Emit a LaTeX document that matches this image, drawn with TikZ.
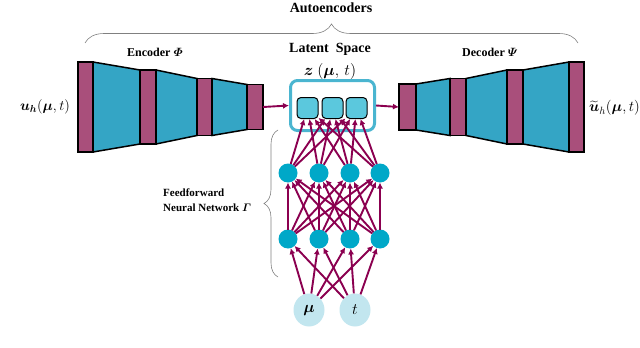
\RequirePackage{fix-cm}
\documentclass[tikz,border=0pt]{standalone}
\usepackage{amsmath}
\usepackage{bm}
\usepackage{fontspec}
\setmainfont{Liberation Serif}
\usetikzlibrary{arrows.meta,decorations.pathreplacing,shapes.geometric}
\definecolor{barc}{HTML}{A94F7B}
\definecolor{trapc}{HTML}{34A5C5}
\definecolor{nodec}{HTML}{00A8C8}
\definecolor{arrc}{HTML}{8B0050}
\definecolor{boxc}{HTML}{4AB5D0}
\definecolor{sqc}{HTML}{5BC8DD}
\definecolor{inc}{HTML}{C2E6EF}
\tikzset{
  bar/.style={draw=black, fill=barc, line width=1.5pt, inner sep=0pt, outer sep=0pt, minimum width=#1},
  trap/.style={draw=black, fill=trapc, line width=1.5pt, line join=miter},
  arr/.style={draw=arrc, line width=1.9pt, -{Latex[length=6pt,width=6pt]}},
  hid/.style={circle, fill=nodec, minimum size=19pt, inner sep=0pt, outer sep=0pt},
  inp/.style={ellipse, fill=inc, minimum width=31pt, minimum height=33pt, inner sep=0pt},
  sq/.style={draw=black, fill=sqc, line width=1pt, rounded corners=4pt, minimum size=21pt, inner sep=0pt},
  brc/.style={draw=gray, line width=0.6pt, decorate, decoration={brace, amplitude=#1}},
  lbl/.style={font=\bfseries\fontsize{12}{14}\selectfont, inner sep=0pt}
}
\begin{document}
\begin{tikzpicture}[x=1pt,y=-1pt]
\path[use as bounding box] (0,0) rectangle (640,348);
% encoder
\node[bar=15, minimum height=90] (e1) at (85.5,107) {};
\node[bar=16, minimum height=74] (e2) at (148,107) {};
\node[bar=15, minimum height=57] (e3) at (204.5,107) {};
\node[bar=16, minimum height=45] (e4) at (255,107) {};
\draw[trap] (e1.north east) -- (e2.north west) -- (e2.south west) -- (e1.south east) -- cycle;
\draw[trap] (e2.north east) -- (e3.north west) -- (e3.south west) -- (e2.south east) -- cycle;
\draw[trap] (e3.north east) -- (e4.north west) -- (e4.south west) -- (e3.south east) -- cycle;
\node[bar=15, minimum height=90] at (e1) {};
\node[bar=16, minimum height=74] at (e2) {};
\node[bar=15, minimum height=57] at (e3) {};
\node[bar=16, minimum height=45] at (e4) {};
% decoder
\node[bar=17, minimum height=46] (d1) at (407.5,107) {};
\node[bar=16, minimum height=57] (d2) at (458,107) {};
\node[bar=16, minimum height=74] (d3) at (515,107) {};
\node[bar=15, minimum height=90] (d4) at (576.5,107) {};
\draw[trap] (d1.north east) -- (d2.north west) -- (d2.south west) -- (d1.south east) -- cycle;
\draw[trap] (d2.north east) -- (d3.north west) -- (d3.south west) -- (d2.south east) -- cycle;
\draw[trap] (d3.north east) -- (d4.north west) -- (d4.south west) -- (d3.south east) -- cycle;
\node[bar=17, minimum height=46] at (d1) {};
\node[bar=16, minimum height=57] at (d2) {};
\node[bar=16, minimum height=74] at (d3) {};
\node[bar=15, minimum height=90] at (d4) {};
% latent
\node[draw=boxc, line width=3pt, rounded corners=7pt, minimum width=84pt, minimum height=50pt, inner sep=0pt] (lat) at (332.5,105.5) {};
\node[sq] (s1) at (307.5,108) {};
\node[sq] (s2) at (332.5,108) {};
\node[sq] (s3) at (356.5,108) {};
\draw[arr] (e4.east) -- (lat.west);
\draw[arr] (lat.east) -- (d1.west);
% labels
\node[lbl, font=\bfseries\fontsize{14}{16}\selectfont] (ae) at (331,8) {Autoencoders};
\node[lbl] (enc) at (155,52) {Encoder $\bm{\varPhi}$};
\node[lbl] (dec) at (490,52) {Decoder $\bm{\varPsi}$};
\node[lbl, font=\bfseries\fontsize{14}{16}\selectfont] (ls) at (330,49) {Latent\ \ Space};
\node[lbl, font=\bfseries\fontsize{16}{18}\selectfont] (lz) at (330,71) {$\bm{z}\ (\bm{\mu},\,t)$};
\node[lbl, font=\fontsize{14.5}{16}\selectfont] (uin) at (45,107) {$\bm{u}_{\bm{h}}(\bm{\mu},t)$};
\node[lbl, font=\fontsize{15}{17}\selectfont, anchor=west] (uout) at (589,108) {$\widetilde{\bm{u}}_h(\bm{\mu},t)$};
\node[lbl, font=\bfseries\fontsize{11}{15}\selectfont, align=left, anchor=west] (ffn) at (163,200) {Feedforward\\Neural Network $\bm{\varGamma}$};
% braces
\draw[brc=19pt] (85,43) -- (578,43);
\draw[brc=14pt] (278,277) -- (278,130);
% network
\foreach \i/\x in {1/288,2/319,3/350,4/380}{
  \node[hid] (h\i) at (\x,173) {};
  \node[hid] (g\i) at (\x,239) {};
}
\node[inp] (mu) at (309,310) {\fontsize{16}{18}\selectfont$\bm{\mu}$};
\node[inp] (tt) at (355,310) {\fontsize{16}{18}\selectfont$t$};
\foreach \a in {mu,tt}{\foreach \j in {1,...,4}{\draw[arr] (\a) -- (g\j);}}
\foreach \i in {1,...,4}{\foreach \j in {1,...,4}{\draw[arr] (g\i) -- (h\j);}}
\foreach \i in {1,...,4}{\foreach \j in {1,2,3}{\draw[arr] (h\i) -- (s\j);}}
\end{tikzpicture}
\end{document}
